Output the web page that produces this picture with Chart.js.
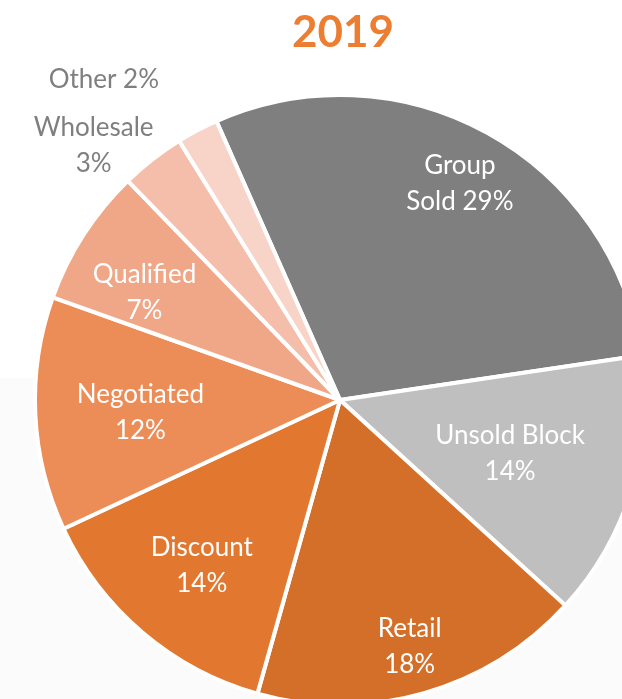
<!DOCTYPE html>
<html>
<head>
<meta charset="utf-8">
<script src="https://cdn.jsdelivr.net/npm/chart.js@4"></script>
<style>
  html, body { margin: 0; padding: 0; width: 622px; height: 699px; overflow: hidden; background: #ffffff; }
  #tint { position: absolute; left: 0; top: 378px; width: 622px; height: 321px; background: #fbfbfc; }
  #title { position: absolute; left: 0; width: 686px; top: 8px; text-align: center;
           font-family: Lato, "Open Sans", sans-serif; font-weight: bold; font-size: 44px;
           line-height: 1; color: #ed7d31; }
  #c { position: absolute; left: 0; top: 0; }
</style>
</head>
<body>
<div id="tint"></div>
<canvas id="c" width="680" height="800" style="width:680px;height:800px"></canvas>
<div id="title">2019</div>
<script>
// ---- data ----
const categories = ['Group Sold', 'Unsold Block', 'Retail', 'Discount', 'Negotiated', 'Qualified', 'Wholesale', 'Other'];
const shares = [29.3, 14.1, 17.6, 13.7, 12.4, 7.3, 3.4, 2.2];
const printedPercents = [29, 14, 18, 14, 12, 7, 3, 2];
const labelTemplates = ['Group\nSold {p}%', 'Unsold Block\n{p}%', 'Retail\n{p}%', 'Discount\n{p}%',
                        'Negotiated\n{p}%', 'Qualified\n{p}%', 'Wholesale\n{p}%', 'Other {p}%'];

// ---- styles / layout ----
const sliceColors = ['#7f7f7f', '#bfbfbf', '#d36f29', '#e27830', '#ec8c57', '#f0a788', '#f4beaa', '#f7d3c8'];
const labelColors = ['#ffffff', '#ffffff', '#ffffff', '#ffffff', '#ffffff', '#ffffff', '#7f7f7f', '#7f7f7f'];
const labelRadius = [0.815, 0.583, 0.83, 0.70, 0.655, 0.733, 1.16, 1.306];
const labelAngleTweakDeg = [0, 0, 0, 0, 0, -3.8, -6.2, -8.5];
const labelShiftY = [1, 2, 3, 3, 3, 1, 0, 0];

const labelPlugin = {
  id: 'sliceLabels',
  afterDatasetsDraw(chart) {
    const ctx = chart.ctx;
    const meta = chart.getDatasetMeta(0);
    ctx.save();
    ctx.font = '26px Lato, "Open Sans", sans-serif';
    ctx.textAlign = 'center';
    ctx.textBaseline = 'middle';
    meta.data.forEach((arc, i) => {
      const p = arc.getProps(['x', 'y', 'startAngle', 'endAngle', 'outerRadius'], true);
      const mid = (p.startAngle + p.endAngle) / 2 + labelAngleTweakDeg[i] * Math.PI / 180;
      const r = p.outerRadius * labelRadius[i];
      const cx = p.x + Math.cos(mid) * r;
      const cy = p.y + Math.sin(mid) * r + labelShiftY[i];
      const lines = labelTemplates[i].replace('{p}', printedPercents[i]).split('\n');
      const lh = 36;
      ctx.fillStyle = labelColors[i];
      lines.forEach((t, k) => {
        ctx.fillText(t, cx, cy + (k - (lines.length - 1) / 2) * lh);
      });
    });
    ctx.restore();
  }
};

new Chart(document.getElementById('c'), {
  type: 'pie',
  data: {
    labels: categories,
    datasets: [{
      data: shares,
      backgroundColor: sliceColors,
      borderColor: '#ffffff',
      borderWidth: 4
    }]
  },
  options: {
    responsive: false,
    animation: false,
    rotation: -23.9,
    layout: { padding: 33 },
    plugins: { legend: { display: false }, tooltip: { enabled: false }, title: { display: false } }
  },
  plugins: [labelPlugin]
});
</script>
</body>
</html>
